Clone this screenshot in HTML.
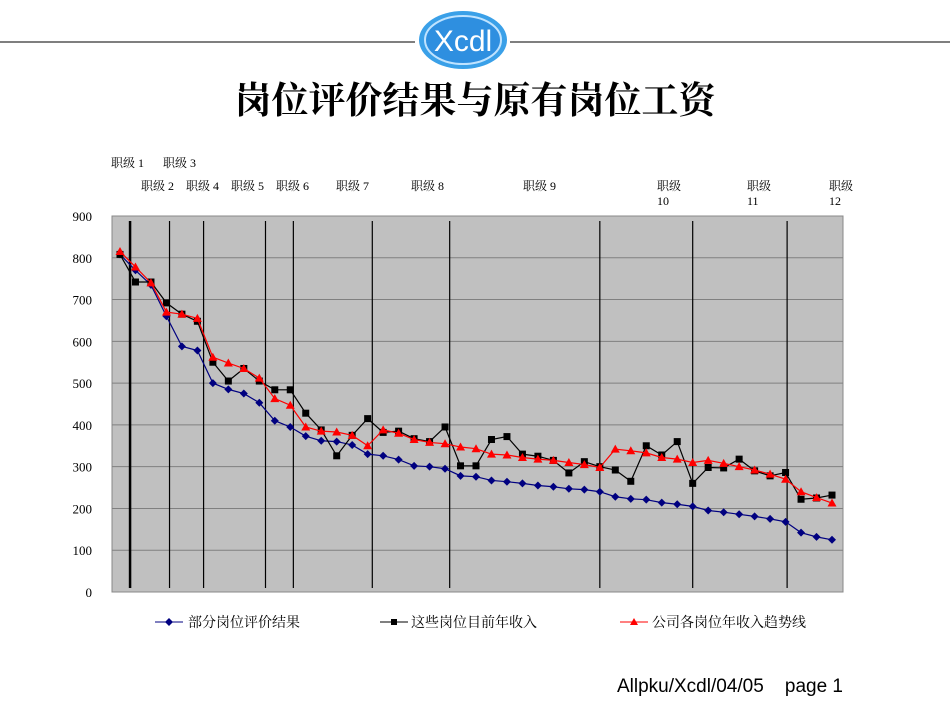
<!DOCTYPE html>
<html><head><meta charset="utf-8"><style>
body{margin:0;background:#fff;}
svg text{font-family:"Liberation Serif","Noto Serif CJK SC",serif;}
</style></head><body>
<svg width="950" height="713" xmlns="http://www.w3.org/2000/svg">
<line x1="0" y1="42" x2="415" y2="42" stroke="#555" stroke-width="1.5"/>
<line x1="510" y1="42" x2="950" y2="42" stroke="#555" stroke-width="1.5"/>
<g>
<ellipse cx="463" cy="40" rx="44" ry="29" fill="#3aa0e8"/>
<ellipse cx="463" cy="40" rx="38" ry="24" fill="#2e8fe0" stroke="#bfe3ff" stroke-width="2"/>
<text x="463" y="51" text-anchor="middle" font-size="30" fill="#fff" style="font-family:'Liberation Sans',sans-serif">Xcdl</text>
</g>
<text x="475" y="113" text-anchor="middle" font-size="37" font-weight="bold" style="font-family:'Liberation Serif','Noto Serif CJK SC',serif">岗位评价结果与原有岗位工资</text>
<g id="levels" font-size="12" fill="#000"></g>
<rect x="112" y="216" width="731" height="376" fill="#c0c0c0" stroke="#888"/>
<g id="grid"></g><g id="vlines"></g><g id="series"></g><g id="axis" font-size="13"></g>
<g font-size="14">
<line x1="155" y1="622" x2="183" y2="622" stroke="#000080"/><path d="M169 618l4 4-4 4-4-4z" fill="#000080"/>
<text x="188" y="627">部分岗位评价结果</text>
<line x1="380" y1="622" x2="408" y2="622" stroke="#000"/><rect x="391" y="619" width="6" height="6" fill="#000"/>
<text x="411" y="627">这些岗位目前年收入</text>
<line x1="620" y1="622" x2="648" y2="622" stroke="#f00"/><path d="M634 618l4 7h-8z" fill="#f00"/>
<text x="652" y="627">公司各岗位年收入趋势线</text>
</g>
<text x="843" y="692" text-anchor="end" font-size="19" style="font-family:'Liberation Sans',sans-serif">Allpku/Xcdl/04/05&#160;&#160;&#160;&#160;page 1</text>
</svg>
<script>
const evaluation=[808,770,735,660,588,578,500,485,475,453,410,395,373,362,360,352,330,326,317,302,300,295,278,276,267,264,260,255,252,247,245,240,228,223,221,214,210,205,195,191,186,181,175,168,142,132,125];
const income=[808,742,742,692,665,648,550,505,535,505,484,484,428,388,326,375,415,382,385,367,360,395,302,302,365,372,330,325,315,285,312,300,292,265,350,328,360,260,298,297,318,290,278,286,222,225,232];
const trend=[815,778,740,670,665,655,562,548,535,512,463,447,395,385,383,375,350,388,380,365,358,355,347,343,330,328,322,318,315,310,305,298,342,338,333,322,318,310,315,308,300,292,282,270,240,226,213];
const yTicks=[0,100,200,300,400,500,600,700,800,900];
const levelBoundaries=[0.65,3.2,5.4,9.4,11.2,16.3,21.3,31,37,43.1];
const levelLabels=[["职级 1",111,167],["职级 3",163,167],["职级 2",141,190],["职级 4",186,190],["职级 5",231,190],["职级 6",276,190],["职级 7",336,190],["职级 8",411,190],["职级 9",523,190],["职级|10",657,190],["职级|11",747,190],["职级|12",829,190]];
const NS="http://www.w3.org/2000/svg";
const X=i=>120+i*(712/46), Y=v=>592-v*376/900;
function mk(t,a,p){const e=document.createElementNS(NS,t);for(const k in a)e.setAttribute(k,a[k]);document.getElementById(p).appendChild(e);return e;}
yTicks.forEach(v=>{if(v>0&&v<900){const l=mk('line',{x1:112,x2:843,y1:Y(v),y2:Y(v),stroke:'#808080'},'grid');

}
const t=mk('text',{x:92,y:Y(v)+5,'text-anchor':'end'},'axis');t.textContent=v;

});
levelBoundaries.forEach((b,k)=>{const l=mk('line',{x1:X(b),x2:X(b),y1:221,y2:588,stroke:'#000','stroke-width':k==0?2.5:1.2},'vlines');

});
levelLabels.forEach(([s,x,y])=>{s.split('|').forEach((p,j)=>{const t=mk('text',{x:x,y:y+j*15},'levels');t.textContent=p;

});});
function series(d,c,shape,name){const pts=d.map((v,i)=>X(i)+','+Y(v)).join(' ');
const pl=mk('polyline',{points:pts,fill:'none',stroke:c,'stroke-width':1.2},'series');


d.forEach((v,i)=>{const x=X(i),y=Y(v);let e;
if(shape=='d')e=mk('path',{d:`M${x} ${y-4}l4 4-4 4-4-4z`,fill:c},'series');
else if(shape=='s')e=mk('rect',{x:x-3.5,y:y-3.5,width:7,height:7,fill:c},'series');
else e=mk('path',{d:`M${x} ${y-4.5}l4.5 8h-9z`,fill:c},'series');

});}
series(evaluation,'#000080','d','evaluation');
series(income,'#000','s','income');
series(trend,'#f00','t','trend');
</script>
</body></html>
